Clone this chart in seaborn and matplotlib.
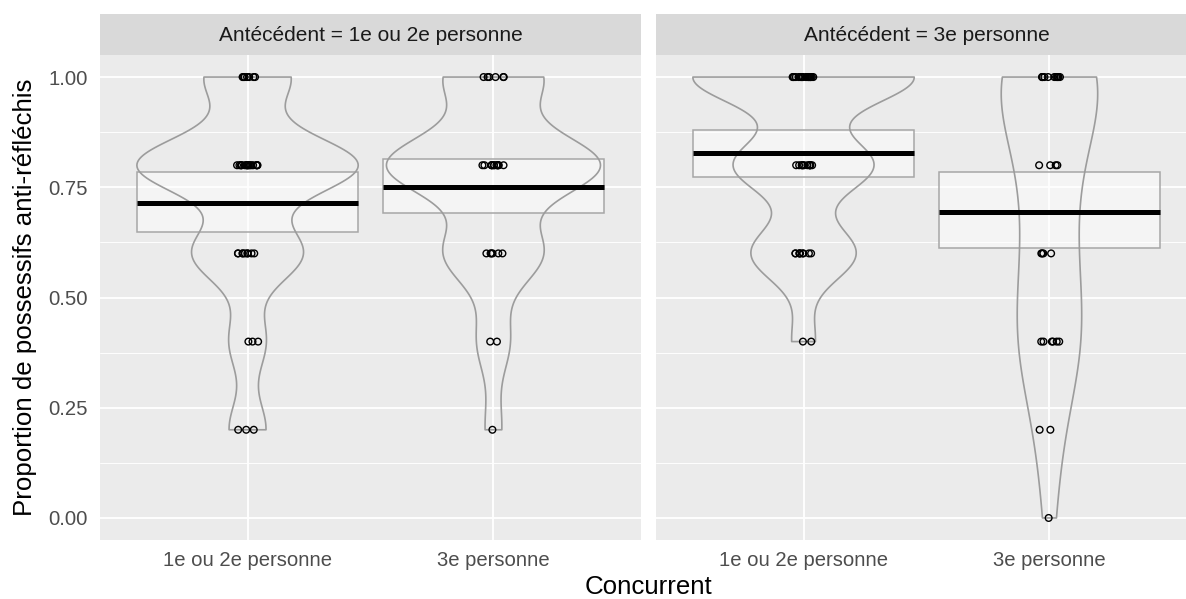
import numpy as np
import pandas as pd
import matplotlib
matplotlib.use("Agg")
import matplotlib.pyplot as plt
from matplotlib.patches import Rectangle
from matplotlib.ticker import MultipleLocator
import seaborn as sns

# ---------------- data ----------------
antecedents = ["1e ou 2e personne", "3e personne"]
concurrents = ["1e ou 2e personne", "3e personne"]
levels = [0.0, 0.2, 0.4, 0.6, 0.8, 1.0]
# number of speakers at each proportion level (per antecedent / concurrent)
counts_a1_c1 = [0, 3, 3, 9, 18, 7]
counts_a1_c2 = [0, 1, 2, 6, 13, 6]
counts_a2_c1 = [0, 0, 2, 9, 12, 19]
counts_a2_c2 = [1, 2, 6, 4, 4, 11]
# 95% interval for the mean
ci_low_a1 = [0.649, 0.692]
ci_high_a1 = [0.785, 0.814]
ci_low_a2 = [0.773, 0.612]
ci_high_a2 = [0.880, 0.785]

strip_labels = ["Antécédent = 1e ou 2e personne", "Antécédent = 3e personne"]
y_ticks = [0.0, 0.25, 0.5, 0.75, 1.0]
y_ticklabels = ["0.00", "0.25", "0.50", "0.75", "1.00"]

counts = {antecedents[0]: [counts_a1_c1, counts_a1_c2],
          antecedents[1]: [counts_a2_c1, counts_a2_c2]}
cis = {antecedents[0]: (ci_low_a1, ci_high_a1),
       antecedents[1]: (ci_low_a2, ci_high_a2)}

rows = []
for a in antecedents:
    for c, cnt in zip(concurrents, counts[a]):
        for v, n in zip(levels, cnt):
            rows += [(a, c, v)] * n
df = pd.DataFrame(rows, columns=["Antecedent", "Concurrent", "prop"])

# ---------------- style ----------------
sns.set_style("white")
plt.rcParams["font.family"] = ["Liberation Sans", "DejaVu Sans"]

W, H = 1186, 599
fig = plt.figure(figsize=(W / 100, H / 100), dpi=100)

panel_lefts = [100, 656]
panel_w = 541
bottom_px, top_px = 540, 55
strip_h = 41
TICK_FS = 14.6
STRIP_FS = 15
TITLE_FS = 18.6
BW_SCALE = [[1.0, 1.0], [0.78, 1.0]]   # smoothing tweak per violin

def kde_bw_adjust(x):
    x = np.asarray(x, float)
    sd = x.std(ddof=1)
    iqr = np.subtract(*np.percentile(x, [75, 25]))
    return 0.9 * min(sd, iqr / 1.34) / sd

def peak_density(x, adj):
    x = np.asarray(x, float)
    n = len(x)
    h = x.std(ddof=1) * n ** (-0.2) * adj
    grid = np.linspace(x.min(), x.max(), 400)
    d = np.exp(-0.5 * ((grid[:, None] - x[None, :]) / h) ** 2).sum(1) / (n * h * np.sqrt(2 * np.pi))
    return d.max()

np.random.seed(7)
for i, a in enumerate(antecedents):
    L = panel_lefts[i]
    ax = fig.add_axes([L / W, (H - bottom_px) / H, panel_w / W, (bottom_px - top_px) / H])
    ax.set_facecolor("#ebebeb")
    sub = df[df["Antecedent"] == a]

    # area-scaled violins (like ggplot's geom_violin)
    adjs, peaks = [], []
    for j, c in enumerate(concurrents):
        x = sub.loc[sub["Concurrent"] == c, "prop"].values
        adj = kde_bw_adjust(x) * BW_SCALE[i][j]
        adjs.append(adj)
        peaks.append(peak_density(x, adj))
    pmax = max(peaks)

    lo, hi = cis[a]
    for j, c in enumerate(concurrents):
        ax.add_patch(Rectangle((j - 0.45, lo[j]), 0.9, hi[j] - lo[j],
                               facecolor="white", alpha=0.45, edgecolor="none", zorder=2))
        ax.add_patch(Rectangle((j - 0.45, lo[j]), 0.9, hi[j] - lo[j],
                               facecolor="none", edgecolor="#a6a6a6", lw=1.1, zorder=2.1))

    for j, c in enumerate(concurrents):
        d = sub[sub["Concurrent"] == c]
        sns.violinplot(data=d, x="Concurrent", y="prop", order=concurrents, ax=ax,
                       cut=0, inner=None, fill=False, color="#9c9c9c", linewidth=1.2,
                       density_norm="width", width=0.9 * peaks[j] / pmax,
                       bw_adjust=adjs[j], gridsize=200, zorder=3)

    n_before = len(ax.collections)
    sns.stripplot(data=sub, x="Concurrent", y="prop", order=concurrents, ax=ax,
                  jitter=0.045, size=4.8, color="black", linewidth=1.0,
                  edgecolor="black", zorder=4)
    for coll in ax.collections[n_before:]:
        coll.set_facecolor("none")
        coll.set_edgecolor("black")
        coll.set_linewidth(1.0)

    means = sub.groupby("Concurrent")["prop"].mean().reindex(concurrents).values
    ax.hlines(means, np.arange(2) - 0.45, np.arange(2) + 0.45, color="black", lw=3.6, zorder=5)

    ax.set_xlim(-0.6, 1.6)
    ax.set_ylim(-0.05, 1.05)
    ax.yaxis.set_major_locator(MultipleLocator(0.25))
    ax.yaxis.set_minor_locator(MultipleLocator(0.125))
    ax.grid(which="major", color="white", lw=1.3, zorder=0)
    ax.grid(which="minor", axis="y", color="white", lw=0.65, zorder=0)
    ax.set_axisbelow(True)
    for s in ax.spines.values():
        s.set_visible(False)
    ax.set_xticks([0, 1])
    ax.set_xticklabels(concurrents)
    ax.tick_params(axis="x", which="major", length=4.3, width=1, color="#333333",
                   labelsize=TICK_FS, labelcolor="#4d4d4d", pad=3.5)
    ax.tick_params(which="minor", length=0)
    if i == 0:
        ax.set_yticks(y_ticks)
        ax.set_yticklabels(y_ticklabels)
        ax.tick_params(axis="y", which="major", length=4.3, width=1, color="#333333",
                       labelsize=TICK_FS, labelcolor="#4d4d4d", pad=4.5)
    else:
        ax.tick_params(axis="y", which="major", length=0, labelleft=False)
    ax.set_ylabel("")
    ax.set_xlabel("")

    sax = fig.add_axes([L / W, (H - top_px) / H, panel_w / W, strip_h / H])
    sax.set_facecolor("#d9d9d9")
    sax.set_xticks([]); sax.set_yticks([])
    for s in sax.spines.values():
        s.set_visible(False)
    sax.text(0.5, 0.47, strip_labels[i], ha="center", va="center",
             fontsize=STRIP_FS, color="#1a1a1a", transform=sax.transAxes)

fig.text((100 + 1197) / 2 / W, 1 - 587 / H, "Concurrent", ha="center", va="center",
         fontsize=TITLE_FS, color="black")
fig.text(25 / W, 1 - 297 / H, "Proportion de possessifs anti-réfléchis", ha="center",
         va="center", rotation=90, fontsize=TITLE_FS, color="black")

fig.savefig("out.png", dpi=100, facecolor="white")
